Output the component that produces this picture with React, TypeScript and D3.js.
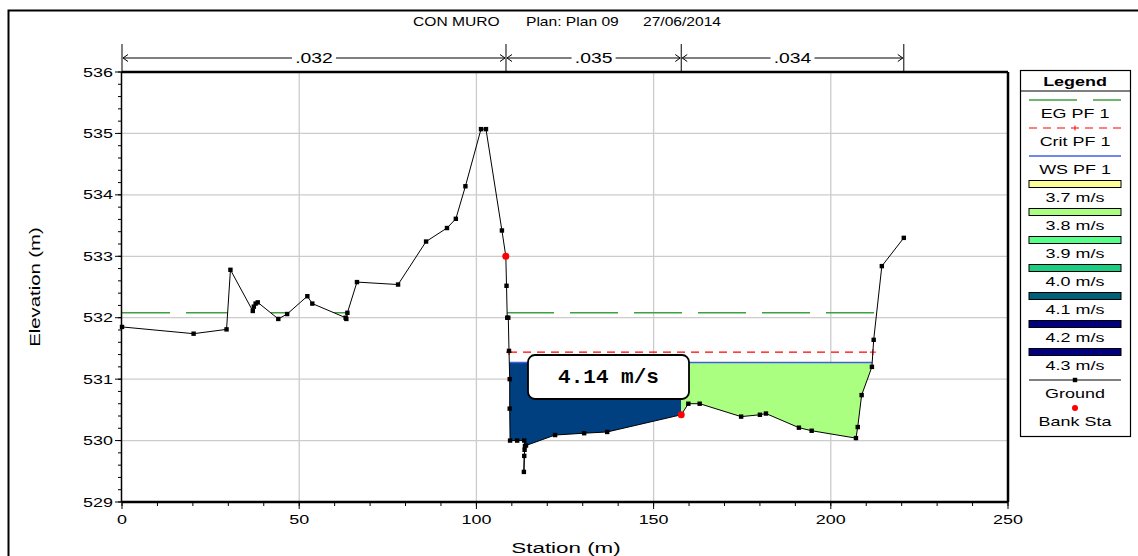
import React from "react";
import * as d3 from "d3";

const groundStation = [0, 20.2, 29.5, 30.6, 36.9, 37.2, 37.7, 38.3, 44.1, 46.6, 52.3, 53.7, 63.1, 63.3, 63.6, 66.3, 77.9, 85.8, 91.7, 94.2, 96.9, 101.3, 102.7, 107.2, 108.3, 108.5, 108.7, 109.0, 109.2, 109.4, 109.4, 109.5, 111.5, 113.5, 113.7, 113.5, 113.4, 113.6, 114.0, 122.2, 130.4, 136.9, 157.8, 159.8, 163.0, 174.7, 180.0, 181.7, 191.0, 194.6, 207.1, 207.6, 208.7, 211.6, 212.1, 214.4, 220.6];
const groundElev = [531.85, 531.74, 531.81, 532.78, 532.11, 532.18, 532.23, 532.25, 531.98, 532.06, 532.35, 532.23, 532.0, 531.98, 532.08, 532.58, 532.54, 533.24, 533.46, 533.61, 534.14, 535.07, 535.07, 533.42, 533.0, 532.52, 532.0, 532.0, 531.46, 531.0, 530.52, 530.0, 530.0, 530.0, 529.91, 529.75, 529.49, 529.85, 529.92, 530.09, 530.12, 530.14, 530.42, 530.6, 530.6, 530.39, 530.42, 530.44, 530.21, 530.16, 530.04, 530.22, 530.74, 531.2, 531.64, 532.84, 533.3];
const bankStations = [108.3, 157.8];
const egElev = 532.08;
const critElev = 531.44;
const wsElev = 531.27;
const nBreaks = [0, 108.35, 157.8, 220.6];
const nLabels = [".032", ".035", ".034"];
const xTicks = [0, 50, 100, 150, 200, 250];
const yTicks = [529, 530, 531, 532, 533, 534, 535, 536];
const legendVel = ["3.7 m/s", "3.8 m/s", "3.9 m/s", "4.0 m/s", "4.1 m/s", "4.2 m/s", "4.3 m/s"];
const legendVelColors = ["#ffff99", "#aaff80", "#55ff88", "#1ccc80", "#005f78", "#000080", "#000080"];
const leftVelColor = "#003f80";
const rightVelColor = "#aaff80";
const velLabel = "4.14 m/s";
const titleParts = ["CON MURO", "Plan: Plan 09", "27/06/2014"];

const FONT = "'Liberation Sans', Arial, sans-serif";
const SX = 1.38;

function crossings(level: number, sMin: number, sMax: number) {
  const res: { s: number; i: number }[] = [];
  for (let i = 0; i < groundStation.length - 1; i++) {
    const s0 = groundStation[i], s1 = groundStation[i + 1];
    const e0 = groundElev[i], e1 = groundElev[i + 1];
    if (s0 < sMin || s1 > sMax) continue;
    if ((e0 - level) * (e1 - level) < 0) {
      const t = (level - e0) / (e1 - e0);
      res.push({ s: s0 + t * (s1 - s0), i });
    }
  }
  return res;
}

function STxt(props: { x: number; y: number; children: any; anchor?: string; size?: number; weight?: string; sx?: number }) {
  const { x, y, children, anchor = "middle", size = 13, weight = "normal", sx = SX } = props;
  return (
    <text transform={`translate(${x},${y}) scale(${sx},1)`} textAnchor={anchor as any} dominantBaseline="central" fontFamily={FONT} fontSize={size} fontWeight={weight} fill="#000">
      {children}
    </text>
  );
}

export default function App() {
  const W = 1138, H = 556;
  const x = d3.scaleLinear().domain([0, 250]).range([122, 1008]);
  const y = d3.scaleLinear().domain([529, 536]).range([502, 72]);
  const pts: [number, number][] = groundStation.map((s, i) => [s, groundElev[i]]);
  const line = d3.line<[number, number]>().x((d) => x(d[0])).y((d) => y(d[1]));

  const wsC = crossings(wsElev, 108, 215);
  const wL = wsC[0], wR = wsC[wsC.length - 1];
  const bankIdx = groundStation.indexOf(bankStations[1]);
  const leftPoly: [number, number][] = [[wL.s, wsElev]];
  for (let i = wL.i + 1; i <= bankIdx; i++) leftPoly.push(pts[i]);
  leftPoly.push([bankStations[1], wsElev]);
  const rightPoly: [number, number][] = [[bankStations[1], wsElev]];
  for (let i = bankIdx; i <= wR.i; i++) rightPoly.push(pts[i]);
  rightPoly.push([wR.s, wsElev]);
  const poly = (p: [number, number][]) => line(p) + "Z";

  const crC = crossings(critElev, 108, 215);
  const cL = crC[0].s, cR = crC[crC.length - 1].s;

  const clipD = `M${x(0)},${y(536) - 5}L` + pts.map((p) => `${x(p[0])},${y(p[1])}`).join("L") + `L${x(groundStation[groundStation.length - 1])},${y(536) - 5}Z`;

  const minorY = d3.range(529, 536.001, 0.2);
  const minorX = d3.range(0, 250.001, 10);

  const lgX0 = 1029, lgX1 = 1121, lgC = 1075;
  const lgY = (k: number) => 100 + 28 * k;
  const titleX = [413, 526, 643];

  return (
    <svg width={W} height={H} style={{ position: "absolute", left: 0, top: 0, background: "#fff" }}>
      <rect x={0} y={0} width={W} height={H} fill="#fff" />
      <rect x={8.5} y={10.5} width={1140} height={560} fill="none" stroke="#000" strokeWidth={2} />
      {titleParts.map((t, i) => (
        <STxt key={"t" + i} x={titleX[i]} y={22} anchor="start" size={12} sx={1.3}>{t}</STxt>
      ))}

      {xTicks.slice(1, -1).map((t) => (
        <line key={"gx" + t} x1={x(t)} x2={x(t)} y1={y(536)} y2={y(529)} stroke="#cccccc" strokeWidth={1.3} />
      ))}
      {yTicks.slice(1, -1).map((t) => (
        <line key={"gy" + t} x1={x(0)} x2={x(250)} y1={y(t)} y2={y(t)} stroke="#cccccc" strokeWidth={1.3} />
      ))}

      <path d={poly(leftPoly)} fill={leftVelColor} stroke="none" />
      <path d={poly(rightPoly)} fill={rightVelColor} stroke="none" />
      <line x1={x(wL.s)} x2={x(wR.s)} y1={y(wsElev)} y2={y(wsElev)} stroke="#3f5fe0" strokeWidth={1.5} />

      <defs>
        <clipPath id="aboveGround">
          <path d={clipD} />
        </clipPath>
      </defs>
      <line x1={x(0)} x2={x(220.6)} y1={y(egElev)} y2={y(egElev)} stroke="#3f9f3f" strokeWidth={1.5} strokeDasharray="48,16" clipPath="url(#aboveGround)" />

      <line x1={x(cL)} x2={x(cR)} y1={y(critElev)} y2={y(critElev)} stroke="#ff0000" strokeWidth={1.2} strokeDasharray="8,6" />
      {[cL, cR].map((s, i) => (
        <g key={"cp" + i} stroke="#ff0000" strokeWidth={1}>
          <line x1={x(s) - 3} x2={x(s) + 3} y1={y(critElev)} y2={y(critElev)} />
          <line x1={x(s)} x2={x(s)} y1={y(critElev) - 3} y2={y(critElev) + 3} />
        </g>
      ))}

      <path d={line(pts) || ""} fill="none" stroke="#000" strokeWidth={1} />
      {pts.map((p, i) => (
        <rect key={"m" + i} x={x(p[0]) - 2.2} y={y(p[1]) - 2.2} width={4.4} height={4.4} fill="#000" />
      ))}
      {bankStations.map((s) => {
        const e = groundElev[groundStation.indexOf(s)];
        return <circle key={"b" + s} cx={x(s)} cy={y(e)} r={3.5} fill="#ff0000" />;
      })}

      <rect x={528} y={355} width={161} height={44} rx={7} fill="#fff" stroke="#000" strokeWidth={1.8} />
      <text x={608.5} y={377} textAnchor="middle" dominantBaseline="central" fontFamily="'Liberation Mono', 'Courier New', monospace" fontWeight="bold" fontSize={21}>{velLabel}</text>

      <line x1={x(0)} x2={x(250)} y1={y(536)} y2={y(536)} stroke="#000" strokeWidth={2.5} />
      <line x1={x(250)} x2={x(250)} y1={y(536)} y2={y(529)} stroke="#000" strokeWidth={2.5} />
      <line x1={x(0)} x2={x(250)} y1={y(529)} y2={y(529)} stroke="#000" strokeWidth={2.5} />
      <line x1={x(0) - 0.5} x2={x(0) - 0.5} y1={y(536)} y2={y(529)} stroke="#000" strokeWidth={1.5} />

      {minorY.map((v, i) => (
        <line key={"my" + i} x1={x(0) - 4} x2={x(0)} y1={y(v)} y2={y(v)} stroke="#000" strokeWidth={1} />
      ))}
      {yTicks.map((t) => (
        <g key={"yt" + t}>
          <line x1={x(0) - 7} x2={x(0)} y1={y(t)} y2={y(t)} stroke="#000" strokeWidth={1} />
          <STxt x={x(0) - 9} y={y(t)} anchor="end">{t}</STxt>
        </g>
      ))}
      {minorX.map((v, i) => (
        <line key={"mx" + i} x1={x(v)} x2={x(v)} y1={y(529)} y2={y(529) + 4} stroke="#000" strokeWidth={1} />
      ))}
      {xTicks.map((t) => (
        <g key={"xt" + t}>
          <line x1={x(t)} x2={x(t)} y1={y(529)} y2={y(529) + 7} stroke="#000" strokeWidth={1} />
          <STxt x={x(t)} y={519}>{t}</STxt>
        </g>
      ))}
      <STxt x={566} y={548} size={14} sx={1.6}>Station (m)</STxt>
      <text transform={`translate(35,287) rotate(-90) scale(1.45,1)`} textAnchor="middle" dominantBaseline="central" fontFamily={FONT} fontSize={14}>Elevation (m)</text>

      {nBreaks.map((s) => (
        <line key={"nb" + s} x1={x(s)} x2={x(s)} y1={44} y2={y(536)} stroke="#000" strokeWidth={1} />
      ))}
      {nLabels.map((lab, i) => {
        const a = x(nBreaks[i]), b = x(nBreaks[i + 1]);
        const m = (a + b) / 2;
        const hw = 22;
        return (
          <g key={"nl" + i} stroke="#000" strokeWidth={1} fill="none">
            <line x1={a + 1} x2={m - hw} y1={58} y2={58} />
            <line x1={m + hw} x2={b - 1} y1={58} y2={58} />
            <path d={`M${a + 6},${54.5}L${a + 1},58L${a + 6},${61.5}`} />
            <path d={`M${b - 6},${54.5}L${b - 1},58L${b - 6},${61.5}`} />
            <g stroke="none">
              <STxt x={m} y={58} size={14}>{lab}</STxt>
            </g>
          </g>
        );
      })}

      <rect x={1020.5} y={70.5} width={110} height={366} fill="#fff" stroke="#000" strokeWidth={1.2} />
      <line x1={1020.5} x2={1130.5} y1={91} y2={91} stroke="#000" strokeWidth={1} />
      <STxt x={lgC} y={81} weight="bold">Legend</STxt>
      <line x1={lgX0} x2={lgX1} y1={lgY(0)} y2={lgY(0)} stroke="#3f9f3f" strokeWidth={1.5} strokeDasharray="48,16" />
      <STxt x={lgC} y={lgY(0) + 13}>EG PF 1</STxt>
      <line x1={lgX0} x2={lgX1} y1={lgY(1)} y2={lgY(1)} stroke="#ff0000" strokeWidth={1.2} strokeDasharray="8,6" />
      <line x1={lgC} x2={lgC} y1={lgY(1) - 2.5} y2={lgY(1) + 2.5} stroke="#ff0000" strokeWidth={1} />
      <STxt x={lgC} y={lgY(1) + 13}>Crit PF 1</STxt>
      <line x1={lgX0} x2={lgX1} y1={lgY(2)} y2={lgY(2)} stroke="#3f5fe0" strokeWidth={1.5} />
      <STxt x={lgC} y={lgY(2) + 13}>WS PF 1</STxt>
      {legendVel.map((lab, i) => (
        <g key={"lv" + i}>
          <rect x={lgX0} y={lgY(3 + i) - 3.5} width={lgX1 - lgX0} height={7} fill={legendVelColors[i]} stroke="#000" strokeWidth={1} />
          <STxt x={lgC} y={lgY(3 + i) + 13}>{lab}</STxt>
        </g>
      ))}
      <line x1={lgX0} x2={lgX1} y1={lgY(10)} y2={lgY(10)} stroke="#000" strokeWidth={1} />
      <rect x={lgC - 2.2} y={lgY(10) - 2.2} width={4.4} height={4.4} fill="#000" />
      <STxt x={lgC} y={lgY(10) + 13}>Ground</STxt>
      <circle cx={lgC} cy={lgY(11)} r={3} fill="#ff0000" />
      <STxt x={lgC} y={lgY(11) + 13}>Bank Sta</STxt>
    </svg>
  );
}
